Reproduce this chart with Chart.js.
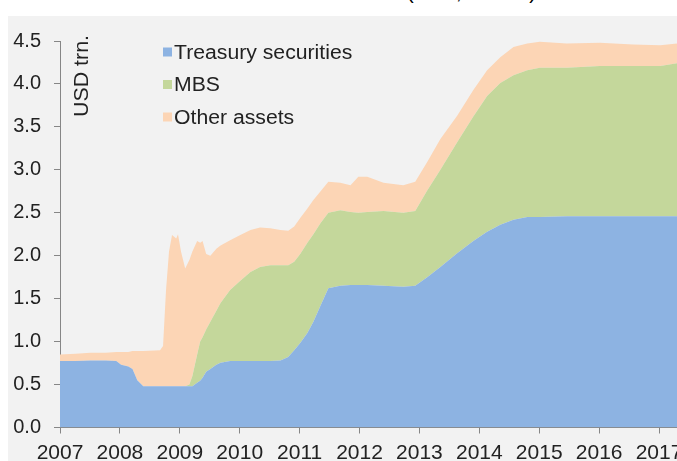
<!DOCTYPE html>
<html>
<head>
<meta charset="utf-8">
<script src="https://cdn.jsdelivr.net/npm/chart.js@4.4.1/dist/chart.umd.min.js"></script>
<style>
  html, body { margin: 0; padding: 0; background: #fff; overflow: hidden; width: 677px; height: 461px; position: relative; }
  #title { position: absolute; top: -18px; right: 141px; font: 20px "Liberation Sans", Arial, sans-serif; line-height: 20px; color: #000; white-space: nowrap; }
  #wrap { position: absolute; left: 8px; top: 16px; width: 690px; height: 445px; background: #f2f2f2; }
</style>
</head>
<body>
<div id="title">Federal Reserve balance sheet (USD, trillions)</div>
<div id="wrap"><canvas id="fedChart" width="690" height="445"></canvas></div>
<script>
// dates as decimal years, values in USD trn (each layer on its own, stacked by the chart)
const dates = [2007.00, 2007.26, 2007.51, 2007.76, 2007.94, 2008.02, 2008.14, 2008.21, 2008.29, 2008.39,
  2008.67, 2008.72, 2008.77, 2008.82, 2008.87, 2008.94, 2008.97, 2009.02, 2009.09, 2009.16,
  2009.21, 2009.29, 2009.34, 2009.38, 2009.44, 2009.51, 2009.61, 2009.68, 2009.84, 2010.01,
  2010.18, 2010.34, 2010.51, 2010.68, 2010.81, 2010.91, 2011.01, 2011.13, 2011.23, 2011.35,
  2011.48, 2011.68, 2011.85, 2011.98, 2012.13, 2012.40, 2012.73, 2012.93, 2013.13, 2013.35,
  2013.63, 2013.90, 2014.13, 2014.35, 2014.57, 2014.80, 2015.01, 2015.46, 2016.01, 2016.57,
  2017.02, 2017.30];
const treasury = [0.775, 0.775, 0.78, 0.78, 0.775, 0.73, 0.71, 0.68, 0.55, 0.48,
  0.48, 0.48, 0.48, 0.48, 0.48, 0.48, 0.48, 0.48, 0.48, 0.48,
  0.48, 0.52, 0.545, 0.58, 0.65, 0.68, 0.73, 0.755, 0.775, 0.775,
  0.775, 0.775, 0.775, 0.78, 0.82, 0.9, 0.985, 1.1, 1.23, 1.42,
  1.62, 1.65, 1.66, 1.66, 1.66, 1.65, 1.64, 1.65, 1.75, 1.87,
  2.03, 2.17, 2.28, 2.36, 2.42, 2.45, 2.45, 2.46, 2.46, 2.46,
  2.46, 2.46];
const mbs = [0, 0, 0, 0, 0, 0, 0, 0, 0, 0,
  0, 0, 0, 0, 0, 0, 0, 0, 0, 0.02,
  0.12, 0.33, 0.455, 0.47, 0.49, 0.55, 0.63, 0.695, 0.825, 0.935,
  1.035, 1.095, 1.115, 1.11, 1.07, 1.03, 1.035, 1.05, 1.02, 0.96,
  0.88, 0.88, 0.85, 0.84, 0.85, 0.87, 0.86, 0.87, 1.01, 1.13,
  1.29, 1.45, 1.58, 1.65, 1.68, 1.71, 1.74, 1.73, 1.75, 1.75,
  1.75, 1.78];
const other = [0.075, 0.085, 0.09, 0.09, 0.105, 0.15, 0.17, 0.21, 0.34, 0.41,
  0.42, 0.47, 1.12, 1.57, 1.76, 1.72, 1.77, 1.57, 1.37, 1.45,
  1.45, 1.32, 1.15, 1.12, 0.88, 0.77, 0.72, 0.67, 0.58, 0.53,
  0.49, 0.46, 0.43, 0.41, 0.40, 0.41, 0.42, 0.40, 0.40, 0.37,
  0.36, 0.32, 0.31, 0.42, 0.41, 0.33, 0.32, 0.34, 0.33, 0.36,
  0.31, 0.31, 0.30, 0.30, 0.33, 0.31, 0.30, 0.28, 0.27, 0.25,
  0.24, 0.23];
const seriesNames = ['Treasury securities', 'MBS', 'Other assets'];
const yearTicks = [2007, 2008, 2009, 2010, 2011, 2012, 2013, 2014, 2015, 2016, 2017];

const FONT = '"Liberation Sans", Arial, sans-serif';
const TEXT = '#222';
const AXIS = '#868686';

function toPoints(vals) {
  return dates.map((d, i) => ({ x: d, y: vals[i] }));
}

// legend + rotated unit label drawn inside the plot
const insideText = {
  id: 'insideText',
  afterDraw(chart) {
    const ctx = chart.ctx;
    ctx.save();
    ctx.font = '20px ' + FONT;
    ctx.textBaseline = 'middle';
    chart.data.datasets.forEach((ds, i) => {
      const y = 36 + i * 32.5;
      ctx.fillStyle = ds.backgroundColor;
      ctx.fillRect(155, y - 4.5, 9, 9);
      ctx.fillStyle = TEXT;
      ctx.save();
      ctx.translate(166, y + 1);
      ctx.scale(1.06, 1); // reference text is a bit wide
      ctx.fillText(ds.label, 0, 0);
      ctx.restore();
    });
    ctx.translate(74, 60);
    ctx.rotate(-Math.PI / 2);
    ctx.scale(1.07, 1);
    ctx.textAlign = 'center';
    ctx.fillText('USD trn.', 0, 0);
    ctx.restore();
  }
};

const ctx = document.getElementById('fedChart').getContext('2d');
const fedChart = new Chart(ctx, {
  type: 'line',
  data: {
    datasets: [{
      label: seriesNames[0],
      data: toPoints(treasury),
      backgroundColor: '#8db3e2',
      fill: 'origin'
    }, {
      label: seriesNames[1],
      data: toPoints(mbs),
      backgroundColor: '#c4d79b',
      fill: '-1'
    }, {
      label: seriesNames[2],
      data: toPoints(other),
      backgroundColor: '#fcd5b5',
      fill: '-1'
    }]
  },
  options: {
    responsive: false,
    animation: false,
    elements: {
      point: { radius: 0 },
      line: { borderWidth: 0, tension: 0 }
    },
    layout: { padding: { top: 19, right: 21, left: 0, bottom: 0 } },
    plugins: {
      legend: { display: false },
      tooltip: { enabled: false }
    },
    scales: {
      x: {
        type: 'linear',
        min: 2007,
        max: 2017.3,
        afterBuildTicks: scale => { scale.ticks = yearTicks.map(v => ({ value: v })); },
        afterFit: scale => { scale.height = 33.5; },
        border: { color: AXIS, width: 1 },
        grid: { drawOnChartArea: false, tickLength: 6, color: AXIS },
        ticks: {
          padding: 7,
          maxRotation: 0,
          autoSkip: false,
          color: TEXT,
          font: { family: FONT, size: 21 },
          callback: v => String(v)
        }
      },
      y: {
        stacked: true,
        min: 0,
        max: 4.5,
        afterFit: scale => { scale.width = 52; },
        border: { color: AXIS, width: 1 },
        grid: { drawOnChartArea: false, tickLength: 6, color: AXIS },
        ticks: {
          stepSize: 0.5,
          padding: 13,
          color: TEXT,
          font: { family: FONT, size: 20 },
          callback: v => v.toFixed(1)
        }
      }
    }
  },
  plugins: [insideText]
});
</script>
</body>
</html>
